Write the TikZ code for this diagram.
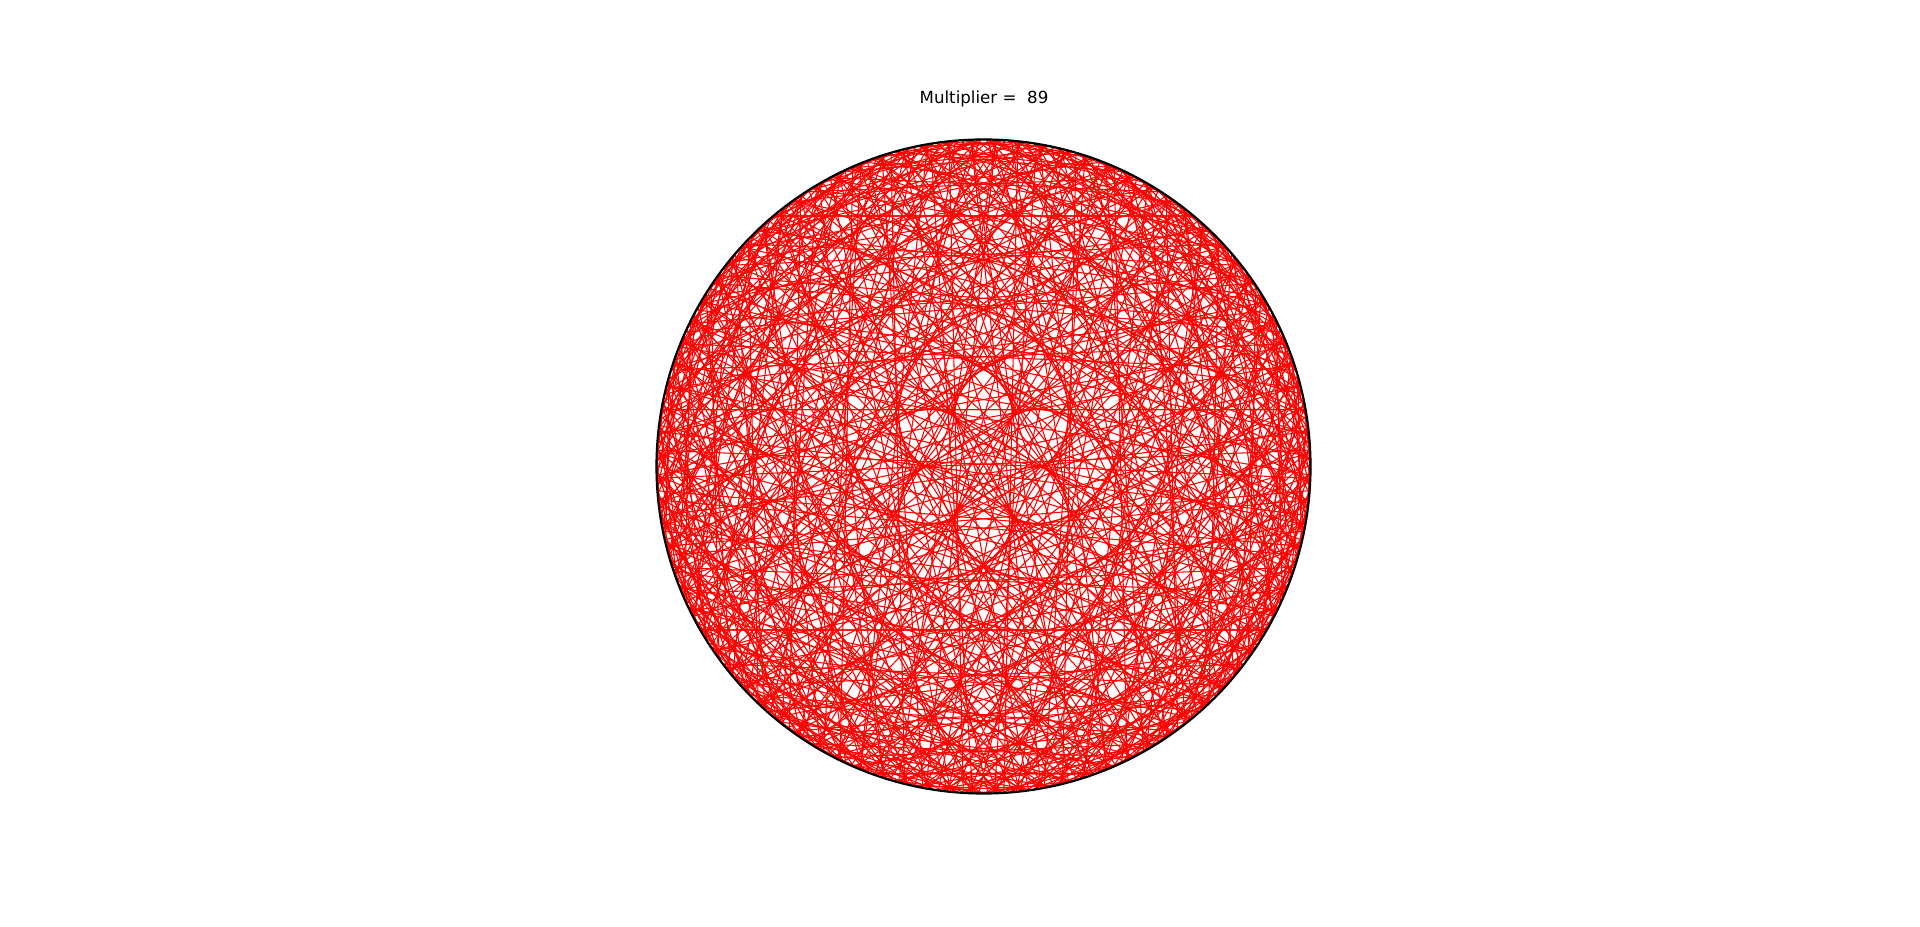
\documentclass[tikz,border=0pt]{standalone}
\usepackage{fontspec}
\setmainfont{DejaVu Sans}
\begin{document}
\begin{tikzpicture}[x=1cm,y=1cm,
  chord/.style={red, line width=0.3pt},
  rim/.style={black, line width=0.62pt},
  dot/.style={black},
  titletext/.style={font=\fontsize{4.74pt}{5.7pt}\selectfont, inner sep=0pt, anchor=base}]
\useasboundingbox (0,0) rectangle (19.2,9.27);
\fill[white] (0,0) rectangle (19.2,9.27);
\coordinate (c) at (9.835,4.605);
\begin{scope}[shift={(9.835,4.605)}]
\foreach \i in {0,...,656}{
  \coordinate (p\i) at ({90-\i/657*360}:3.27);
}
\end{scope}
\foreach \i in {0,...,656}{
  \edef\j{\the\numexpr \i*89 - 657*((\i*89 - 328)/657)\relax}
  \draw[chord] (p\i) -- (p\j);
}
\draw[rim] (c) circle[radius=3.27];
\foreach \i in {0,...,656}{
  \fill[dot] (p\i) circle[radius=0.009];
}
\node[titletext] (title) at (9.84,8.237) {Multiplier =\ \ 89};
\end{tikzpicture}
\end{document}
